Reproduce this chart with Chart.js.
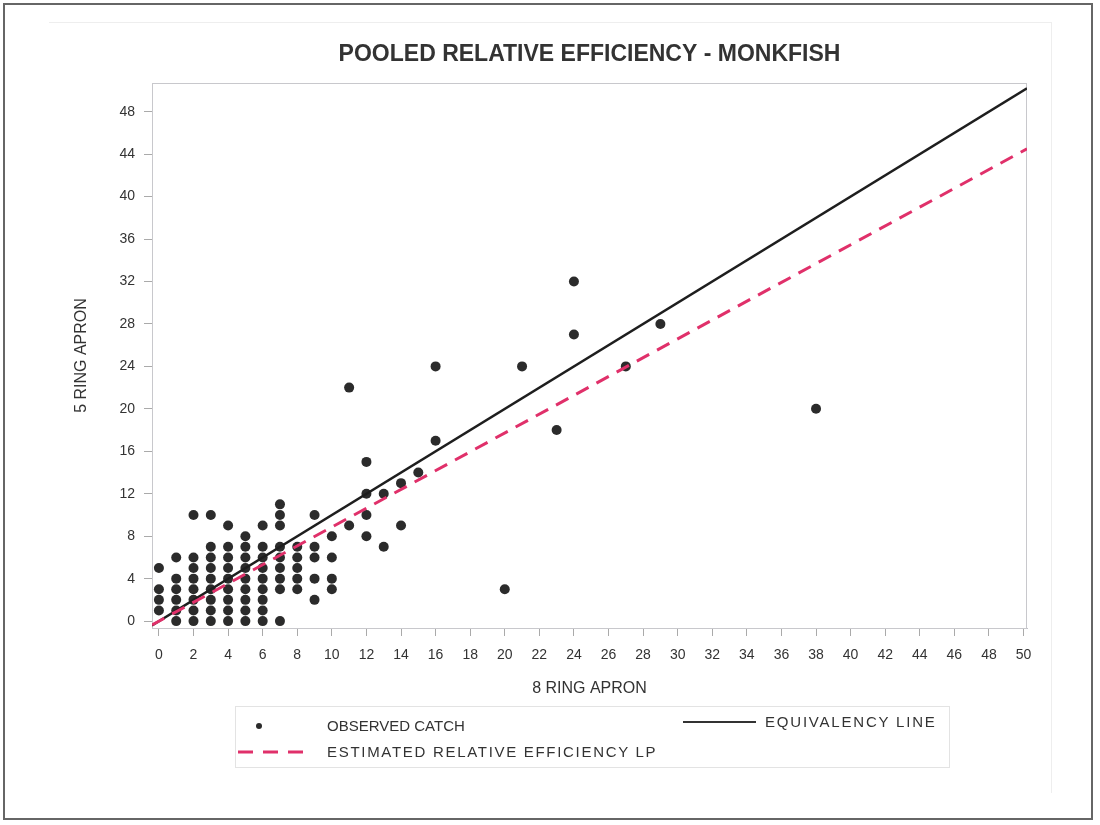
<!DOCTYPE html>
<html>
<head>
<meta charset="utf-8">
<script src="https://cdn.jsdelivr.net/npm/chart.js@4/dist/chart.umd.min.js"></script>
<style>
    body { margin: 0; background: #fff; }
    #wrap { position: relative; width: 1100px; height: 825px; font-family: "Liberation Sans", Arial, sans-serif; }
    #chart { position: absolute; left: 0; top: 0; }
    .frame { position: absolute; left: 3px; top: 3px; width: 1090px; height: 817px; border: 2px solid #666; box-sizing: border-box; }
    .inner { position: absolute; left: 49px; top: 22px; width: 1002px; height: 770px; border-top: 1px solid #eee; border-right: 1px solid #eee; }
    #legend { position: absolute; left: 235px; top: 706px; width: 715px; height: 62px; border: 1px solid #e3e3e3; box-sizing: border-box; }
    .lbl { position: absolute; font-size: 15px; line-height: 18px; color: #333; white-space: nowrap; }
</style>
</head>
<body>
<div id="wrap">
    <div class="frame"></div>
    <div class="inner"></div>
    <canvas id="chart" width="1100" height="825"></canvas>
    <div id="legend">
        <div style="position:absolute;left:20px;top:16px;width:6px;height:6px;border-radius:3px;background:#2b2b2b;"></div>
        <div class="lbl" style="left:91px;top:10px;">OBSERVED CATCH</div>
        <div style="position:absolute;left:447px;top:14px;width:73px;height:2px;background:#333;"></div>
        <div class="lbl" style="left:529px;top:6px;letter-spacing:1.8px;">EQUIVALENCY LINE</div>
        <svg style="position:absolute;left:0;top:40px;" width="80" height="8">
            <line x1="2" y1="5" x2="72" y2="5" stroke="#e0306a" stroke-width="3" stroke-dasharray="15 10"></line>
        </svg>
        <div class="lbl" style="left:91px;top:36px;letter-spacing:1.7px;">ESTIMATED RELATIVE EFFICIENCY LP</div>
    </div>
</div>
<script>
// observed catch: 8 ring apron (x) vs 5 ring apron (y)
const catch8Ring = [
    0, 0, 0, 0,
    1, 1, 1, 1, 1, 1,
    2, 2, 2, 2, 2, 2, 2, 2,
    3, 3, 3, 3, 3, 3, 3, 3, 3,
    4, 4, 4, 4, 4, 4, 4, 4, 4,
    5, 5, 5, 5, 5, 5, 5, 5, 5,
    6, 6, 6, 6, 6, 6, 6, 6, 6,
    7, 7, 7, 7, 7, 7, 7, 7, 7,
    8, 8, 8, 8, 8,
    9, 9, 9, 9, 9,
    10, 10, 10, 10,
    11, 11,
    12, 12, 12, 12,
    13, 13,
    14, 14,
    15,
    16, 16,
    20, 21, 23,
    24, 24,
    27, 29, 38
];
const catch5Ring = [
    1, 2, 3, 5,
    0, 1, 2, 3, 4, 6,
    0, 1, 2, 3, 4, 5, 6, 10,
    0, 1, 2, 3, 4, 5, 6, 7, 10,
    0, 1, 2, 3, 4, 5, 6, 7, 9,
    0, 1, 2, 3, 4, 5, 6, 7, 8,
    0, 1, 2, 3, 4, 5, 6, 7, 9,
    0, 3, 4, 5, 6, 7, 9, 10, 11,
    3, 4, 5, 6, 7,
    2, 4, 6, 7, 10,
    3, 4, 6, 8,
    9, 22,
    8, 10, 12, 15,
    7, 12,
    9, 13,
    14,
    17, 24,
    3, 24, 18,
    27, 32,
    24, 28, 20
];

// line end points
const equivalencyX = [-0.4, 50.2];
const equivalencyY = [-0.4, 50.2];
const estimatedX = [-0.4, 50.2];
const estimatedY = [-0.36, 44.5];

const xTicks = [0, 2, 4, 6, 8, 10, 12, 14, 16, 18, 20, 22, 24, 26, 28, 30, 32, 34, 36, 38, 40, 42, 44, 46, 48, 50];
const yTicks = [0, 4, 8, 12, 16, 20, 24, 28, 32, 36, 40, 44, 48];

const FONT = '"Liberation Sans", Arial, sans-serif';

const toPoints = (xs, ys) => xs.map((x, i) => ({ x: x, y: ys[i] }));

// draw the box round the plot area
const plotFrame = {
    id: 'plotFrame',
    beforeDatasetsDraw(chart) {
        const { ctx, chartArea: a } = chart;
        ctx.save();
        ctx.strokeStyle = '#c8c8cc';
        ctx.lineWidth = 1;
        ctx.strokeRect(a.left + 0.5, a.top + 0.5, a.right - a.left - 1, a.bottom - a.top);
        ctx.restore();
    }
};

new Chart(document.getElementById('chart').getContext('2d'), {
    type: 'scatter',
    data: {
        datasets: [{
            label: 'ESTIMATED RELATIVE EFFICIENCY LP',
            data: toPoints(estimatedX, estimatedY),
            showLine: true,
            borderColor: '#e0306a',
            borderWidth: 3,
            borderDash: [14, 9],
            pointRadius: 0,
            order: 0
        }, {
            label: 'EQUIVALENCY LINE',
            data: toPoints(equivalencyX, equivalencyY),
            showLine: true,
            borderColor: '#1e1e1e',
            borderWidth: 2.5,
            pointRadius: 0,
            order: 1
        }, {
            label: 'OBSERVED CATCH',
            data: toPoints(catch8Ring, catch5Ring),
            backgroundColor: '#2b2b2b',
            borderWidth: 0,
            pointRadius: 5,
            order: 2
        }]
    },
    options: {
        responsive: false,
        animation: false,
        layout: { padding: { left: 0, right: 73, top: 0, bottom: 117 } },
        plugins: {
            legend: { display: false },
            tooltip: { enabled: false },
            title: {
                display: true,
                text: 'POOLED RELATIVE EFFICIENCY - MONKFISH',
                fullSize: false,
                color: '#333',
                font: { family: FONT, size: 23, weight: 'bold' },
                padding: { top: 41.2, bottom: 14.2 }
            }
        },
        scales: {
            x: {
                type: 'linear',
                min: -0.4,
                max: 50.2,
                afterBuildTicks: s => { s.ticks = xTicks.map(v => ({ value: v })); },
                afterFit: s => { s.height = 80; },
                grid: { drawOnChartArea: false, tickLength: 8, color: '#aaa' },
                border: { color: '#c0c0c8' },
                ticks: { color: '#333', font: { family: FONT, size: 14 }, padding: 11, maxRotation: 0, autoSkip: false },
                title: {
                    display: true,
                    text: '8 RING APRON',
                    color: '#333',
                    font: { family: FONT, size: 16 },
                    padding: { top: 0, bottom: 10 }
                }
            },
            y: {
                type: 'linear',
                min: -0.65,
                max: 50.7,
                afterBuildTicks: s => { s.ticks = yTicks.map(v => ({ value: v })); },
                afterFit: s => { s.width = 152; },
                grid: { drawOnChartArea: false, tickLength: 8, color: '#aaa' },
                border: { color: '#c0c4d0' },
                ticks: { color: '#333', font: { family: FONT, size: 14 }, padding: 9, autoSkip: false },
                title: {
                    display: true,
                    text: '5 RING APRON',
                    color: '#333',
                    font: { family: FONT, size: 16 },
                    padding: { top: 72, bottom: 0 }
                }
            }
        }
    },
    plugins: [plotFrame]
});
</script>
</body>
</html>
